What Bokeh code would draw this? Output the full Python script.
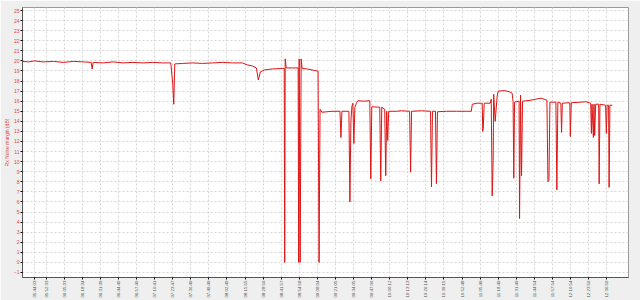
import math
import pandas as pd
from bokeh.plotting import figure
from bokeh.models import ColumnDataSource, FixedTicker, DatetimeTickFormatter, Range1d
from bokeh.embed import file_html
from bokeh.resources import INLINE

# ---- data ----
times = [
    "05:35:17", "05:39:36", "05:43:55", "05:50:22", "05:57:34", "06:04:44", "06:11:55", "06:19:07",
    "06:24:52", "06:25:34", "06:26:17", "06:33:29", "06:40:40", "06:47:51", "06:55:02", "07:02:13",
    "07:09:24", "07:16:35", "07:22:20", "07:23:46", "07:24:29", "07:25:12", "07:30:57", "07:38:08",
    "07:45:19", "07:52:30", "07:59:41", "08:06:52", "08:14:03", "08:17:38", "08:21:14", "08:24:07",
    "08:25:33", "08:26:59", "08:29:52", "08:35:37", "08:42:47", "08:44:14", "08:44:35", "08:44:57",
    "08:45:40", "08:49:59", "08:54:17", "08:54:39", "08:55:01", "08:55:44", "08:56:27", "08:57:10",
    "09:00:46", "09:04:21", "09:07:56", "09:08:40", "09:09:23", "09:10:06", "09:11:32", "09:18:43",
    "09:24:28", "09:25:11", "09:25:54", "09:30:56", "09:31:39", "09:32:22", "09:33:05", "09:33:48",
    "09:34:31", "09:35:14", "09:36:40", "09:37:23", "09:41:42", "09:46:01", "09:46:44", "09:47:27",
    "09:53:12", "09:53:55", "09:54:38", "09:56:47", "09:57:31", "09:58:13", "09:58:56", "09:59:40",
    "10:05:25", "10:09:00", "10:14:45", "10:15:28", "10:16:11", "10:23:22", "10:29:50", "10:30:33",
    "10:31:16", "10:33:26", "10:34:08", "10:34:52", "10:41:20", "10:48:31", "10:55:41", "10:59:17",
    "11:00:01", "11:03:36", "11:07:11", "11:07:33", "11:07:55", "11:08:38", "11:12:56", "11:13:40",
    "11:14:23", "11:15:05", "11:15:27", "11:16:32", "11:17:58", "11:18:41", "11:23:00", "11:26:35",
    "11:28:45", "11:29:28", "11:29:58", "11:30:32", "11:33:47", "11:34:08", "11:34:51", "11:35:34",
    "11:36:17", "11:42:24", "11:49:35", "11:53:53", "11:54:37", "11:55:20", "11:56:03", "12:00:22",
    "12:01:04", "12:01:47", "12:03:57", "12:04:27", "12:05:01", "12:10:25", "12:10:46", "12:11:29",
    "12:18:19", "12:21:54", "12:25:29", "12:26:00", "12:26:26", "12:27:26", "12:27:52", "12:28:22",
    "12:29:05", "12:31:14", "12:31:36", "12:32:10", "12:36:16", "12:36:46", "12:37:21", "12:38:25",
    "12:38:47", "12:39:22", "12:41:05",
]
noise_margin = [
    19.95, 19.9, 20.0, 19.9, 19.95, 19.85, 19.95, 19.9,
    19.85, 19.2, 19.85, 19.8, 19.9, 19.8, 19.85, 19.8,
    19.85, 19.8, 19.8, 17.7, 15.7, 19.7, 19.75, 19.8,
    19.75, 19.8, 19.85, 19.8, 19.8, 19.6, 19.5, 19.3,
    18.1, 18.9, 19.1, 19.2, 19.25, 19.25, 0.0, 20.2,
    19.3, 19.3, 19.3, 0.0, 20.2, 0.0, 20.2, 19.25,
    19.2, 19.1, 19.0, 19.0, 0.0, 15.2, 14.9, 15.0,
    15.0, 12.4, 15.0, 15.0, 6.0, 14.0, 15.5, 15.8,
    11.8, 15.4, 15.9, 16.05, 16.0, 16.05, 8.3, 15.45,
    15.4, 8.1, 15.4, 15.2, 8.6, 15.0, 12.1, 15.0,
    15.0, 15.05, 15.0, 8.95, 15.0, 15.05, 15.0, 7.5,
    15.0, 15.0, 7.8, 14.95, 15.0, 15.0, 15.0, 15.0,
    15.7, 15.8, 15.8, 13.0, 13.3, 15.8, 15.8, 16.2,
    6.6, 10.1, 16.7, 14.0, 16.5, 17.0, 17.05, 16.95,
    16.8, 15.95, 8.35, 15.9, 16.0, 4.35, 16.6, 8.6,
    16.0, 16.1, 16.3, 16.1, 8.0, 8.1, 15.9, 15.9,
    7.2, 15.9, 15.8, 12.9, 15.8, 15.85, 12.5, 15.85,
    15.9, 15.95, 15.8, 12.8, 15.7, 12.4, 15.7, 12.6,
    15.7, 15.7, 7.8, 15.7, 15.6, 12.8, 15.6, 15.6,
    7.45, 15.6, 15.6,
]
tick_labels = [
    "05:44:03", "05:52:33", "06:05:33", "06:18:34", "06:31:39", "06:44:40", "06:57:40",
    "07:10:41", "07:23:47", "07:36:49", "07:49:49", "08:02:49", "08:15:55", "08:28:56",
    "08:41:57", "08:54:58", "09:08:04", "09:21:05", "09:34:05", "09:47:06", "10:00:12",
    "10:13:13", "10:26:14", "10:39:15", "10:52:48", "11:05:49", "11:18:49", "11:31:49",
    "11:44:54", "11:57:54", "12:10:54", "12:23:56", "12:36:59",
]
y_ticks = list(range(-1, 26))
x_start, x_end = "05:35:17", "12:52:47"

EPOCH = pd.Timestamp("1970-01-01")
def to_ms(t):
    return (pd.Timestamp("2020-01-01 " + t) - EPOCH).total_seconds() * 1000.0

src = ColumnDataSource(dict(x=[to_ms(t) for t in times], y=noise_margin))

p = figure(width=640, height=300, output_backend="svg", toolbar_location=None,
           x_axis_type="datetime",
           x_range=Range1d(to_ms(x_start), to_ms(x_end)),
           y_range=Range1d(-1.5, 25.3),
           min_border_left=0, min_border_right=12, min_border_top=7, min_border_bottom=0)

p.line("x", "y", source=src, line_color="#dd1515", line_width=1)

p.background_fill_color = "white"
p.border_fill_color = "#efefef"
p.outline_line_color = "#9a9a9a"

FONT = "Liberation Sans"
fmt = "%H:%M:%S"
p.xaxis.ticker = FixedTicker(ticks=[to_ms(t) for t in tick_labels])
p.xaxis.formatter = DatetimeTickFormatter(
    milliseconds=fmt, seconds=fmt, minsec=fmt, minutes=fmt, hourmin=fmt,
    hours=fmt, days=fmt, months=fmt, years=fmt)
p.xaxis.major_label_orientation = math.pi / 2
p.xaxis.major_label_text_font_size = "4.4px"
p.xaxis.major_label_text_color = "#555555"
p.xaxis.major_label_text_font = FONT
p.xaxis.major_tick_out = 2
p.xaxis.major_tick_in = 0
p.xaxis.minor_tick_line_color = None
p.xaxis.axis_line_color = "#555555"
p.xaxis.major_label_standoff = 1

p.yaxis.ticker = FixedTicker(ticks=y_ticks)
p.yaxis.major_label_text_font_size = "5px"
p.yaxis.major_label_text_color = "#e04848"
p.yaxis.major_label_text_font = FONT
p.yaxis.major_tick_out = 2
p.yaxis.major_tick_in = 0
p.yaxis.minor_tick_line_color = None
p.yaxis.axis_line_color = "#555555"
p.yaxis.major_label_standoff = 1
p.yaxis.axis_label = "Rx Noise margin (dB)"
p.yaxis.axis_label_text_font_size = "5px"
p.yaxis.axis_label_text_font_style = "normal"
p.yaxis.axis_label_text_color = "#e04848"
p.yaxis.axis_label_text_font = FONT
p.yaxis.axis_label_standoff = 1

p.grid.grid_line_color = "#d6d6d6"
p.grid.grid_line_dash = "2 2"
p.grid.grid_line_width = 1

open("out.html", "w").write(file_html(p, INLINE))
